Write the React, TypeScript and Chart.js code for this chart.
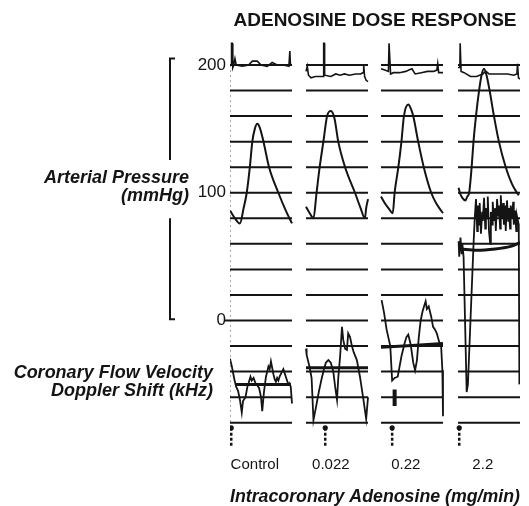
import { useEffect, useRef } from "react";
import { Chart, registerables } from "chart.js";

Chart.register(...registerables);

// ---- text ----
const chartTitle = "ADENOSINE DOSE RESPONSE";
const doseLabels = ["Control", "0.022", "0.22", "2.2"];
const xAxisTitle = "Intracoronary Adenosine (mg/min)";
const pressureLabel = ["Arterial Pressure", "(mmHg)"];
const flowLabel = ["Coronary Flow Velocity", "Doppler Shift (kHz)"];

// ---- scales ----
const pressureTicks = [0, 100, 200];
const gridLevels = [200, 180, 160, 140, 120, 100, 80, 60, 40, 20, 0, -20, -40, -60, -80];
// start of each recording strip on the time axis (each strip spans 1 unit)
const panelStarts = [0, 1.226, 2.435, 3.677];

// ---- arterial pressure (mmHg) vs time within strip ----
const pressure1 = [[0, 86], [0.08, 80], [0.16, 76], [0.22, 88], [0.27, 100], [0.32, 120], [0.36, 140], [0.4, 150], [0.44, 154], [0.48, 151], [0.54, 140], [0.63, 120], [0.78, 100], [0.9, 86], [1.0, 76]];
const pressure2 = [[0, 89], [0.06, 84], [0.12, 80], [0.17, 100], [0.22, 120], [0.28, 140], [0.34, 160], [0.4, 164], [0.46, 158], [0.52, 140], [0.63, 120], [0.79, 100], [0.88, 88], [0.95, 80], [0.97, 88], [1.0, 95]];
const pressure3 = [[0, 97], [0.06, 92], [0.12, 88], [0.19, 84], [0.22, 100], [0.28, 120], [0.33, 140], [0.37, 160], [0.44, 169], [0.48, 166], [0.52, 160], [0.6, 140], [0.69, 120], [0.81, 100], [0.9, 91], [1.0, 84]];
const pressure4 = [[0.01, 104], [0.03, 100], [0.07, 96], [0.12, 94], [0.15, 97], [0.18, 100], [0.22, 120], [0.25, 140], [0.29, 160], [0.34, 180], [0.38, 192], [0.42, 197], [0.46, 192], [0.51, 180], [0.58, 160], [0.66, 140], [0.77, 120], [0.87, 107], [0.95, 100], [0.98, 98]];

// ---- ECG strips at the top ----
const ecg1 = [[0, 200], [0.02, 200], [0.025, 217], [0.035, 217], [0.045, 198], [0.06, 200], [0.08, 205], [0.1, 200], [0.2, 199], [0.3, 200], [0.36, 203], [0.44, 203], [0.5, 200], [0.6, 199], [0.68, 202], [0.76, 200], [0.86, 200], [0.95, 199], [0.965, 211], [0.975, 200], [1.0, 200]];
const ecg2 = [[0, 195], [0.02, 199], [0.04, 192], [0.08, 190], [0.15, 191], [0.22, 191], [0.28, 191], [0.285, 217], [0.295, 217], [0.3, 192], [0.4, 191], [0.48, 193], [0.55, 192], [0.62, 193], [0.7, 192], [0.8, 193], [0.88, 193], [0.92, 194], [0.93, 200], [0.945, 191], [0.97, 188], [1.0, 187]];
const ecg3 = [[0, 197], [0.06, 196], [0.12, 195], [0.13, 217], [0.145, 217], [0.155, 193], [0.2, 194], [0.3, 194], [0.4, 195], [0.45, 196], [0.5, 197], [0.55, 193], [0.65, 194], [0.75, 195], [0.85, 195], [0.9, 196], [0.915, 201], [0.93, 194], [1.0, 194]];
const ecg4 = [[0, 198], [0.03, 198], [0.035, 217], [0.045, 217], [0.05, 195], [0.1, 194], [0.2, 191], [0.3, 191], [0.4, 193], [0.45, 195], [0.5, 193], [0.6, 193], [0.7, 193], [0.8, 193], [0.9, 192], [0.95, 193], [0.96, 201], [0.975, 190], [1.0, 189]];

// ---- coronary flow velocity (plotted on the same strip grid) ----
const flow1 = [[0.0, -30], [0.03, -36], [0.07, -46], [0.1, -52], [0.13, -55], [0.16, -62], [0.19, -72], [0.21, -63], [0.25, -60], [0.28, -52], [0.3, -49], [0.33, -44], [0.35, -47], [0.38, -45], [0.41, -49], [0.43, -50], [0.47, -53], [0.5, -60], [0.52, -71], [0.54, -60], [0.55, -55], [0.58, -44], [0.6, -40], [0.62, -36], [0.64, -38], [0.66, -32], [0.68, -37], [0.7, -42], [0.72, -46], [0.74, -48], [0.76, -45], [0.78, -47], [0.8, -44], [0.82, -42], [0.84, -40], [0.86, -38], [0.88, -41], [0.9, -44], [0.92, -47], [0.94, -50], [0.96, -49], [0.98, -52], [1.0, -65]];
const flow2 = [[0.0, -22], [0.01, -27], [0.04, -33], [0.06, -37], [0.09, -45], [0.12, -78], [0.16, -68], [0.21, -55], [0.25, -46], [0.29, -38], [0.32, -33], [0.36, -31], [0.4, -33], [0.44, -40], [0.47, -52], [0.5, -62], [0.52, -45], [0.55, -28], [0.58, -5], [0.6, -15], [0.63, -22], [0.66, -23], [0.68, -10], [0.71, -13], [0.74, -20], [0.77, -25], [0.82, -31], [0.87, -44], [0.92, -60], [0.97, -77], [1.0, -60]];
const flow3 = [[0.01, 16], [0.05, 6], [0.09, -7], [0.15, -20], [0.18, -47], [0.22, -45], [0.27, -44], [0.33, -28], [0.38, -18], [0.41, -13], [0.44, -11], [0.48, -19], [0.52, -33], [0.55, -39], [0.58, -31], [0.61, -13], [0.64, 0], [0.67, 7], [0.7, 12], [0.72, 15], [0.74, 9], [0.77, 11], [0.81, 3], [0.84, -5], [0.87, -7], [0.9, -10], [0.94, -17], [0.97, -20], [0.99, -39], [1.0, -75]];
const flow4 = [[0.01, 62], [0.02, 50], [0.04, 65], [0.06, 52], [0.07, 60], [0.09, 50], [0.14, -56], [0.16, -50], [0.25, 59], [0.27, 80], [0.29, 95], [0.31, 70], [0.32, 90], [0.34, 75], [0.35, 92], [0.37, 68], [0.39, 85], [0.4, 78], [0.42, 96], [0.44, 72], [0.45, 88], [0.47, 80], [0.48, 97], [0.5, 70], [0.52, 60], [0.53, 85], [0.55, 75], [0.56, 93], [0.58, 78], [0.6, 88], [0.61, 70], [0.63, 95], [0.65, 82], [0.66, 90], [0.68, 72], [0.69, 98], [0.71, 80], [0.73, 92], [0.74, 75], [0.76, 90], [0.77, 70], [0.79, 94], [0.81, 78], [0.82, 88], [0.84, 72], [0.85, 90], [0.87, 80], [0.89, 93], [0.9, 75], [0.92, 86], [0.94, 70], [0.95, 82], [0.98, 75], [0.99, -50]];

// mean flow lines
const meanFlow1 = [[0.08, -50], [0.98, -50]];
const meanFlow2 = [[0, -37], [1, -37]];
const meanFlow3 = [[0, -21], [1, -18]];
const meanFlow4 = [[0.05, 56], [0.3, 55], [0.6, 56], [0.85, 58], [1, 61]];
const flowBlip3 = [[0.22, -54], [0.22, -67]];

// event markers under each strip
const markerTimes = [0.02, 0.31, 0.18, 0.02];
const markerTop = -84;
const markerBottom = -98;

const INK = "#141414";

type P = number[][];
const toPts = (s: P, panel: number) => s.map(([t, v]) => ({ x: panelStarts[panel] + t, y: v }));
const joinGaps = (segs: { x: number; y: number | null }[][]) => {
  const out: { x: number; y: number | null }[] = [];
  segs.forEach((seg) => {
    out.push(...seg);
    out.push({ x: seg[seg.length - 1].x, y: null });
  });
  return out;
};

const sideLabels = {
  id: "sideLabels",
  afterDraw(chart: any) {
    const { ctx, chartArea, scales } = chart;
    const y = scales.y;
    ctx.save();
    ctx.fillStyle = INK;
    ctx.strokeStyle = INK;
    ctx.font = 'italic bold 18px "Liberation Sans"';
    ctx.textAlign = "right";
    ctx.textBaseline = "alphabetic";
    const xr1 = chartArea.left - 41;
    ctx.fillText(pressureLabel[0], xr1, y.getPixelForValue(107.6));
    ctx.fillText(pressureLabel[1], xr1, y.getPixelForValue(93.5));
    const xr2 = chartArea.left - 17;
    ctx.fillText(flowLabel[0], xr2, y.getPixelForValue(-45));
    ctx.fillText(flowLabel[1], xr2, y.getPixelForValue(-59));
    // bracket for the pressure scale
    const bx = chartArea.left - 60;
    const top = y.getPixelForValue(205);
    const bottom = y.getPixelForValue(1);
    ctx.lineWidth = 2;
    ctx.beginPath();
    ctx.moveTo(bx + 5, top);
    ctx.lineTo(bx, top);
    ctx.lineTo(bx, y.getPixelForValue(125.6));
    ctx.moveTo(bx, y.getPixelForValue(80));
    ctx.lineTo(bx, bottom);
    ctx.lineTo(bx + 5, bottom);
    ctx.stroke();
    // small tick at zero
    ctx.beginPath();
    ctx.moveTo(chartArea.left - 5, y.getPixelForValue(0));
    ctx.lineTo(chartArea.left, y.getPixelForValue(0));
    ctx.stroke();
    ctx.restore();
  },
};

export default function App() {
  const ref = useRef<HTMLCanvasElement | null>(null);
  useEffect(() => {
    if (!ref.current) return;
    const pressures = [pressure1, pressure2, pressure3, pressure4];
    const ecgs = [ecg1, ecg2, ecg3, ecg4];
    const flows = [flow1, flow2, flow3, flow4];
    const means = [meanFlow1, meanFlow2, meanFlow3, meanFlow4];

    const gridSegs: { x: number; y: number }[][] = [];
    panelStarts.forEach((s, p) => {
      gridLevels.forEach((lv) => {
        gridSegs.push([{ x: s, y: lv }, { x: s + 1, y: lv }]);
      });
    });

    const base = {
      type: "line" as const,
      borderColor: INK,
      pointRadius: 0,
      fill: false,
    };

    const datasets: any[] = [
      { ...base, label: "grid", data: joinGaps(gridSegs), borderWidth: 2, tension: 0 },
      {
        ...base,
        label: "strip edge",
        data: [{ x: 0, y: 200 }, { x: 0, y: -80 }],
        borderWidth: 1,
        borderColor: "#555",
        borderDash: [2, 3],
      },
      ...pressures.map((s, i) => ({
        ...base,
        label: "pressure " + doseLabels[i],
        data: toPts(s, i),
        borderWidth: 2,
        cubicInterpolationMode: "monotone",
      })),
      ...ecgs.map((s, i) => ({
        ...base,
        label: "ecg " + doseLabels[i],
        data: toPts(s, i),
        borderWidth: 1.6,
        tension: 0,
      })),
      ...flows.map((s, i) => ({
        ...base,
        label: "flow " + doseLabels[i],
        data: toPts(s, i),
        borderWidth: 1.8,
        tension: 0,
      })),
      {
        ...base,
        label: "mean flow",
        data: joinGaps(means.map((s, i) => toPts(s, i))),
        borderWidth: 3,
        tension: 0.3,
      },
      { ...base, label: "flow blip", data: toPts(flowBlip3, 2), borderWidth: 4 },
      {
        ...base,
        label: "marker stems",
        data: joinGaps(markerTimes.map((t, i) => toPts([[t, markerTop], [t, markerBottom]], i))),
        borderWidth: 2.5,
        borderDash: [3, 2],
      },
      {
        type: "scatter",
        label: "marker dots",
        data: markerTimes.map((t, i) => ({ x: panelStarts[i] + t, y: markerTop })),
        pointRadius: 2.6,
        pointBackgroundColor: INK,
        pointBorderWidth: 0,
        showLine: false,
      },
    ];

    const chart = new Chart(ref.current, {
      type: "line",
      data: { datasets },
      options: {
        animation: false,
        responsive: false,
        devicePixelRatio: 1,
        layout: { padding: { left: 0, right: 9, top: 0, bottom: 0 } },
        plugins: {
          legend: { display: false },
          tooltip: { enabled: false },
          title: {
            display: true,
            text: chartTitle,
            fullSize: false,
            color: INK,
            font: { family: '"Liberation Sans"', size: 19, weight: "bold", lineHeight: 1.2 },
            padding: { top: 9.6, bottom: 7.05 },
          },
        },
        scales: {
          x: {
            type: "linear",
            min: 0,
            max: panelStarts[3] + 1,
            grid: { display: false, drawTicks: false },
            border: { display: false },
            afterBuildTicks: (scale: any) => {
              scale.ticks = panelStarts.map((s) => ({ value: s + 0.4 }));
            },
            afterFit: (scale: any) => {
              scale.height = 57.75;
            },
            ticks: {
              autoSkip: false,
              maxRotation: 0,
              padding: 8,
              color: INK,
              font: { family: '"Liberation Sans"', size: 15 },
              callback: (_v: any, i: number) => doseLabels[i],
            },
            title: {
              display: true,
              text: xAxisTitle,
              color: INK,
              font: { family: '"Liberation Sans"', size: 18, style: "italic", weight: "bold", lineHeight: 1 },
              padding: { top: 0, bottom: 0 },
            },
          },
          y: {
            type: "linear",
            min: -100,
            max: 220,
            grid: { display: false, drawTicks: false },
            border: { display: false },
            afterBuildTicks: (scale: any) => {
              scale.ticks = pressureTicks.map((v) => ({ value: v }));
            },
            afterFit: (scale: any) => {
              scale.width = 230;
            },
            ticks: {
              padding: 4,
              color: INK,
              font: { family: '"Liberation Sans"', size: 17 },
            },
          },
        },
      },
      plugins: [sideLabels],
    } as any);
    return () => chart.destroy();
  }, []);

  return (
    <div style={{ position: "absolute", left: 0, top: 0, width: 529, height: 506, background: "#fff" }}>
      <canvas ref={ref} width={529} height={506} style={{ width: 529, height: 506 }} />
    </div>
  );
}
